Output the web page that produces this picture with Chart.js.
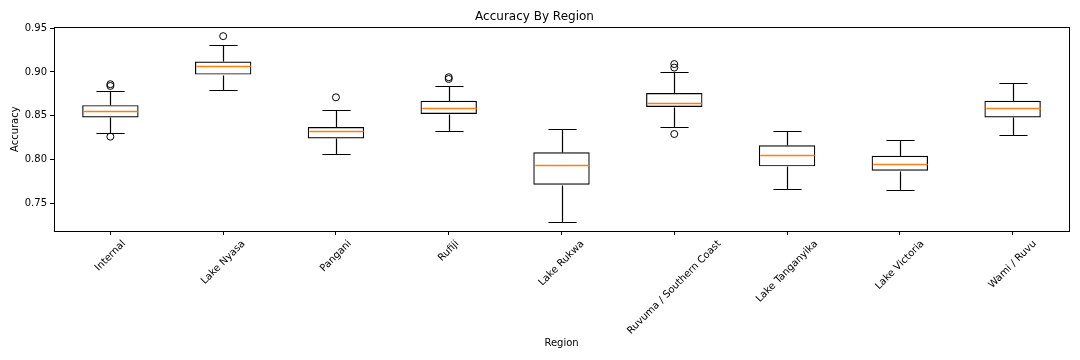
<!DOCTYPE html>
<html lang="en">
<head>
    <meta charset="UTF-8">
    <title>Accuracy By Region</title>
    <style>
        body { margin: 0; background: #fff; }
        canvas { display: block; }
    </style>
</head>
<body>
    <canvas id="chart" width="1080" height="360"></canvas>
    <script src="https://cdn.jsdelivr.net/npm/chart.js"></script>
    <script>
        const regions = ['Internal', 'Lake Nyasa', 'Pangani', 'Rufiji', 'Lake Rukwa',
            'Ruvuma / Southern Coast', 'Lake Tanganyika', 'Lake Victoria', 'Wami / Ruvu'];
        const whiskerLow  = [0.830, 0.879, 0.806, 0.833, 0.728, 0.837, 0.766, 0.765, 0.828];
        const q1          = [0.848, 0.897, 0.824, 0.852, 0.771, 0.860, 0.792, 0.787, 0.848];
        const medians     = [0.855, 0.907, 0.832, 0.859, 0.793, 0.865, 0.805, 0.795, 0.859];
        const q3          = [0.862, 0.912, 0.837, 0.867, 0.808, 0.876, 0.816, 0.804, 0.867];
        const whiskerHigh = [0.878, 0.931, 0.856, 0.884, 0.835, 0.900, 0.832, 0.822, 0.887];
        const outliers    = [[0.886, 0.884, 0.826], [0.941], [0.871], [0.894, 0.892], [],
            [0.909, 0.905, 0.829], [], [], []];
        const yTicks = [0.75, 0.80, 0.85, 0.90, 0.95];

        const FONT = '"DejaVu Sans", sans-serif';

        const outlierPoints = [];
        outliers.forEach((list, i) => list.forEach(v => outlierPoints.push({ x: regions[i], y: v })));

        // whiskers, caps, medians, frame and rotated x labels
        const boxExtras = {
            id: 'boxExtras',
            afterDatasetsDraw(chart) {
                const { ctx, scales: { x, y } } = chart;
                const half = x.width / regions.length * 0.125;
                const py = v => Math.round(y.getPixelForValue(v)) + 0.5;
                ctx.save();
                ctx.lineWidth = 1.2;
                regions.forEach((r, i) => {
                    const cx = Math.round(x.getPixelForValue(i)) + 0.5;
                    ctx.strokeStyle = '#000';
                    ctx.beginPath();
                    ctx.moveTo(cx, py(q3[i]));
                    ctx.lineTo(cx, py(whiskerHigh[i]));
                    ctx.moveTo(cx, py(q1[i]));
                    ctx.lineTo(cx, py(whiskerLow[i]));
                    ctx.moveTo(cx - half, py(whiskerHigh[i]));
                    ctx.lineTo(cx + half, py(whiskerHigh[i]));
                    ctx.moveTo(cx - half, py(whiskerLow[i]));
                    ctx.lineTo(cx + half, py(whiskerLow[i]));
                    ctx.stroke();
                    ctx.strokeStyle = '#ff7f0e';
                    ctx.lineWidth = 1.4;
                    ctx.beginPath();
                    ctx.moveTo(cx - 2 * half + 1, py(medians[i]));
                    ctx.lineTo(cx + 2 * half - 1, py(medians[i]));
                    ctx.stroke();
                    ctx.lineWidth = 1.2;
                });
                ctx.restore();
            },
            afterDraw(chart) {
                const { ctx, chartArea: a, scales: { x } } = chart;
                ctx.save();
                ctx.strokeStyle = '#000';
                ctx.lineWidth = 1;
                ctx.strokeRect(Math.round(a.left) + 0.5, Math.round(a.top) + 0.5,
                    Math.round(a.right - a.left), Math.round(a.bottom - a.top));
                ctx.font = '10px ' + FONT;
                ctx.fillStyle = '#000';
                ctx.textAlign = 'center';
                ctx.textBaseline = 'middle';
                const top = a.bottom + 7;
                regions.forEach((r, i) => {
                    const w = ctx.measureText(r).width;
                    const s = (w + 12) * Math.SQRT1_2 / 2;
                    ctx.save();
                    ctx.translate(x.getPixelForValue(i), top + s);
                    ctx.rotate(-Math.PI / 4);
                    ctx.fillText(r, 0, 0);
                    ctx.restore();
                });
                ctx.restore();
            }
        };

        new Chart(document.getElementById('chart'), {
            type: 'bar',
            data: {
                labels: regions,
                datasets: [{
                    data: regions.map((r, i) => [q1[i], q3[i]]),
                    backgroundColor: 'rgba(255,255,255,0)',
                    borderColor: '#000',
                    borderWidth: 1.2,
                    borderSkipped: false,
                    barPercentage: 0.5,
                    categoryPercentage: 1
                }, {
                    type: 'line',
                    data: outlierPoints,
                    showLine: false,
                    pointStyle: 'circle',
                    pointRadius: 3.5,
                    pointBorderWidth: 1,
                    pointBorderColor: '#000',
                    pointBackgroundColor: 'rgba(255,255,255,0)'
                }]
            },
            options: {
                responsive: false,
                animation: false,
                devicePixelRatio: 1,
                layout: { padding: { left: 0, right: 11, top: 0, bottom: 0 } },
                plugins: {
                    legend: { display: false },
                    tooltip: { enabled: false },
                    title: {
                        display: true,
                        text: 'Accuracy By Region',
                        color: '#000',
                        font: { family: FONT, size: 12, weight: 'normal' },
                        padding: { top: 10, bottom: 3 }
                    }
                },
                scales: {
                    x: {
                        offset: true,
                        grid: { offset: false, drawOnChartArea: false, drawTicks: true, tickLength: 4, tickColor: '#000' },
                        border: { display: true, color: '#000' },
                        ticks: { display: false },
                        title: {
                            display: true, text: 'Region', color: '#000',
                            font: { family: FONT, size: 10 },
                            padding: { top: 11, bottom: 11 }
                        },
                        afterFit: s => { s.height = 129; }
                    },
                    y: {
                        min: 0.718,
                        max: 0.951,
                        afterBuildTicks: s => { s.ticks = yTicks.map(v => ({ value: v })); },
                        grid: { drawOnChartArea: false, drawTicks: true, tickLength: 4, tickColor: '#000' },
                        border: { display: true, color: '#000' },
                        ticks: {
                            color: '#000',
                            padding: 3,
                            font: { family: FONT, size: 10 },
                            callback: v => v.toFixed(2)
                        },
                        title: {
                            display: true, text: 'Accuracy', color: '#000',
                            font: { family: FONT, size: 10 },
                            padding: { top: 9, bottom: 9 }
                        },
                        afterFit: s => { s.width = 54; }
                    }
                }
            },
            plugins: [boxExtras]
        });
    </script>
</body>
</html>
